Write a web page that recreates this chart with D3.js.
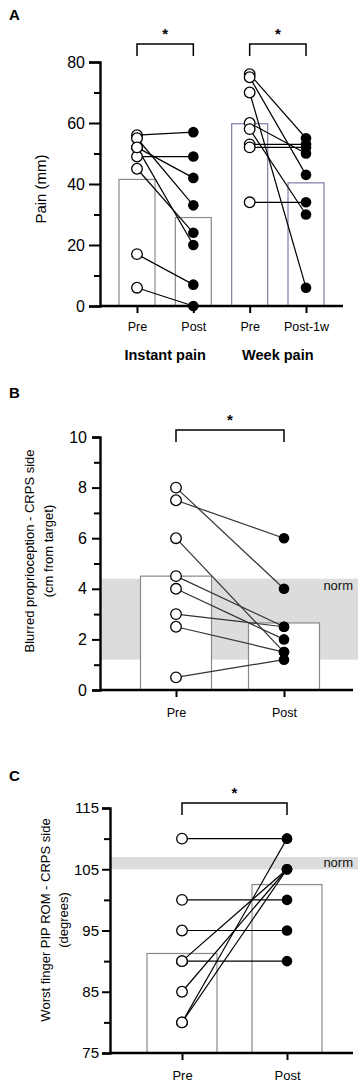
<!DOCTYPE html>
<html>
<head>
<meta charset="utf-8">
<script src="https://cdn.jsdelivr.net/npm/d3@7"></script>
<style>
  body { margin: 0; background: #fff; }
  svg text { font-family: "Liberation Sans", Arial, sans-serif; }
</style>
</head>
<body>
<div id="chart-area"></div>
<script>
// Panel A - pain (mm), paired subjects
var instantPre = [56, 49, 52, 55, 52, 45, 17, 6];
var instantPost = [57, 49, 42, 33, 20, 24, 7, 0];
var weekPre = [76, 75, 70, 60, 58, 53, 52, 34];
var weekPost = [55, 43, 6, 50, 30, 53, 52, 34];
var painCategories = ["Pre", "Post", "Pre", "Post-1w"];
var painGroups = ["Instant pain", "Week pain"];
var painTicks = [0, 20, 40, 60, 80];

// Panel B - blurred proprioception (cm from target)
var propPre = [8, 7.5, 6, 4.5, 4, 3, 2.5, 0.5];
var propPost = [4, 6, 1.5, 2.5, 2, 2.5, 1.5, 1.2];
var propNorm = [1.2, 4.4];
var propTicks = [0, 2, 4, 6, 8, 10];

// Panel C - worst finger PIP ROM (degrees)
var romPre = [110, 100, 95, 90, 90, 85, 80, 80];
var romPost = [110, 100, 95, 90, 105, 105, 110, 105];
var romNorm = [105, 107];
var romTicks = [75, 85, 95, 105, 115];

var prePost = ["Pre", "Post"];

var svg = d3.select("#chart-area")
  .append("svg")
  .attr("width", 364)
  .attr("height", 1084);

// draws one panel: axes, bars (means), paired points, bracket
function drawPanel(opt) {
  var g = svg.append("g");
  var y = d3.scaleLinear().domain(opt.yDomain).range([opt.yBottom, opt.yTop]);
  var x = d3.scalePoint().domain(opt.keys).range(opt.xRange);

  // norm band
  if (opt.norm) {
    g.append("rect")
      .attr("x", opt.axisX + 1)
      .attr("width", opt.axisEnd - opt.axisX + 4)
      .attr("y", y(opt.norm[1]))
      .attr("height", y(opt.norm[0]) - y(opt.norm[1]))
      .attr("fill", "#dcdcdc");
    g.append("text")
      .attr("x", opt.axisEnd)
      .attr("y", y(opt.norm[1]) + opt.normDy)
      .attr("text-anchor", "end")
      .attr("font-size", "13px")
      .attr("fill", "#111")
      .text("norm");
  }

  // bars = mean of each column
  g.selectAll("rect.bar")
    .data(opt.columns).enter()
    .append("rect")
    .attr("class", "bar")
    .attr("x", (d) => x(d.key) - opt.barW / 2)
    .attr("width", opt.barW)
    .attr("y", (d) => y(d3.mean(d.values)))
    .attr("height", (d) => y(opt.yDomain[0]) - y(d3.mean(d.values)))
    .attr("fill", "#fff")
    .attr("stroke", (d) => d.stroke || "#8a8a8a")
    .attr("stroke-width", 1.2);

  // paired lines
  opt.pairs.forEach(p => {
    g.selectAll(null)
      .data(d3.range(p.pre.length)).enter()
      .append("line")
      .attr("x1", x(p.a)).attr("x2", x(p.b))
      .attr("y1", (i) => y(p.pre[i]))
      .attr("y2", (i) => y(p.post[i]))
      .attr("stroke", opt.lineColor || "#000")
      .attr("stroke-width", 1.2);
  });

  // points
  opt.pairs.forEach(p => {
    g.selectAll(null)
      .data(p.post).enter()
      .append("circle")
      .attr("cx", x(p.b)).attr("cy", (d) => y(d))
      .attr("r", 5.3).attr("fill", "#000");
    g.selectAll(null)
      .data(p.pre).enter()
      .append("circle")
      .attr("cx", x(p.a)).attr("cy", (d) => y(d))
      .attr("r", 5.3).attr("fill", "#fff")
      .attr("stroke", "#000").attr("stroke-width", 1.3);
  });

  // y axis, major + minor ticks
  var minor = [];
  for (var i = 0; i < opt.yTicks.length - 1; i++) minor.push((opt.yTicks[i] + opt.yTicks[i + 1]) / 2);
  var yAxis = g.append("g")
    .attr("transform", "translate(" + opt.axisX + ",0)")
    .call(d3.axisLeft(y).tickValues(opt.yTicks).tickSize(opt.tickSize).tickPadding(opt.tickPad));
  g.append("g")
    .attr("transform", "translate(" + opt.axisX + ",0)")
    .call(d3.axisLeft(y).tickValues(minor).tickSize(6).tickFormat(""))
    .select(".domain").remove();
  yAxis.selectAll("text").attr("font-size", opt.tickFont).attr("fill", "#000");

  // x axis
  var xAxis = g.append("g")
    .attr("transform", "translate(0," + y(opt.yDomain[0]) + ")")
    .call(d3.axisBottom(x).tickSize(7).tickPadding(opt.xPad).tickFormat((d, i) => opt.labels[i]));
  xAxis.select(".domain").remove();
  xAxis.selectAll("text").attr("font-size", opt.xFont).attr("fill", "#000");
  g.append("line")
    .attr("x1", opt.axisX).attr("x2", opt.axisEnd)
    .attr("y1", y(opt.yDomain[0])).attr("y2", y(opt.yDomain[0]))
    .attr("stroke", "#000").attr("stroke-width", 2.4);

  g.selectAll(".tick line").attr("stroke", "#000").attr("stroke-width", 2);
  g.selectAll(".domain").attr("stroke", "#000").attr("stroke-width", 2.4);

  // significance brackets
  opt.pairs.forEach(p => {
    var top = opt.bracketY;
    g.append("path")
      .attr("d", "M" + x(p.a) + "," + (top + 12) + "V" + top + "H" + x(p.b) + "V" + (top + 12))
      .attr("fill", "none").attr("stroke", "#000").attr("stroke-width", 1.5);
    g.append("text")
      .attr("x", (x(p.a) + x(p.b)) / 2)
      .attr("y", top - 5)
      .attr("text-anchor", "middle")
      .attr("font-size", "15px")
      .attr("font-weight", "bold")
      .text("*");
  });

  // y title
  var t = g.append("text")
    .attr("transform", "translate(" + opt.titleX + "," + opt.titleY + ") rotate(-90)")
    .attr("text-anchor", "middle")
    .attr("font-size", opt.titleFont);
  opt.title.forEach((line, i) => {
    t.append("tspan").attr("x", 0).attr("y", i * opt.titleGap).text(line);
  });

  // panel letter
  g.append("text")
    .attr("x", 9).attr("y", opt.letterY)
    .attr("font-size", "15px").attr("font-weight", "bold")
    .text(opt.letter);
  return { g: g, x: x, y: y };
}

// Panel A
var pA = drawPanel({
  letter: "A", letterY: 20,
  yDomain: [0, 80], yTop: 62, yBottom: 306, yTicks: painTicks,
  tickSize: 11, tickPad: 4, tickFont: "16px",
  keys: ["ip", "iq", "wp", "wq"], labels: painCategories, xRange: [137, 306],
  xPad: 9, xFont: "12.5px",
  axisX: 100, axisEnd: 343, barW: 36,
  columns: [
    { key: "ip", values: instantPre },
    { key: "iq", values: instantPost },
    { key: "wp", values: weekPre, stroke: "#7c7ca6" },
    { key: "wq", values: weekPost, stroke: "#7c7ca6" }
  ],
  pairs: [
    { a: "ip", b: "iq", pre: instantPre, post: instantPost },
    { a: "wp", b: "wq", pre: weekPre, post: weekPost }
  ],
  bracketY: 44,
  title: ["Pain (mm)"], titleX: 46, titleY: 189, titleFont: "15px", titleGap: 0
});
pA.g.selectAll(null)
  .data(painGroups).enter()
  .append("text")
  .attr("x", (d, i) => i == 0 ? (pA.x("ip") + pA.x("iq")) / 2 : (pA.x("wp") + pA.x("wq")) / 2)
  .attr("y", 360)
  .attr("text-anchor", "middle")
  .attr("font-size", "14.5px")
  .attr("font-weight", "bold")
  .text(d => d);

// Panel B
drawPanel({
  letter: "B", letterY: 398,
  yDomain: [0, 10], yTop: 437, yBottom: 690, yTicks: propTicks,
  tickSize: 8, tickPad: 5, tickFont: "16px",
  keys: ["p", "q"], labels: prePost, xRange: [176, 284],
  xPad: 11, xFont: "12.5px",
  axisX: 100, axisEnd: 353, barW: 71,
  columns: [{ key: "p", values: propPre }, { key: "q", values: propPost }],
  pairs: [{ a: "p", b: "q", pre: propPre, post: propPost }],
  lineColor: "#333",
  norm: propNorm, normDy: 11,
  bracketY: 430,
  title: ["Blurred proprioception - CRPS side", "(cm from target)"],
  titleX: 34, titleY: 551, titleFont: "13px", titleGap: 19
});

// Panel C
drawPanel({
  letter: "C", letterY: 781,
  yDomain: [75, 115], yTop: 808, yBottom: 1053, yTicks: romTicks,
  tickSize: 8, tickPad: 3, tickFont: "15px",
  keys: ["p", "q"], labels: prePost, xRange: [182, 287],
  xPad: 11, xFont: "13px",
  axisX: 110, axisEnd: 353, barW: 70,
  columns: [{ key: "p", values: romPre }, { key: "q", values: romPost }],
  pairs: [{ a: "p", b: "q", pre: romPre, post: romPost }],
  norm: romNorm, normDy: 9.5,
  bracketY: 803,
  title: ["Worst finger PIP ROM - CRPS side", "(degrees)"],
  titleX: 50, titleY: 920, titleFont: "13px", titleGap: 18
});
</script>
</body>
</html>
